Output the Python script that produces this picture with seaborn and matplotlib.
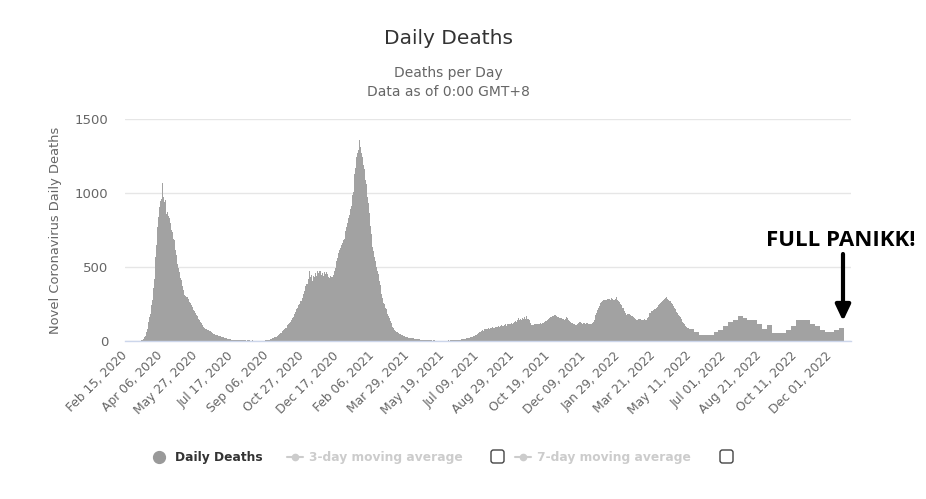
import numpy as np
import pandas as pd
import matplotlib
matplotlib.use("Agg")
import matplotlib.pyplot as plt
import seaborn as sns
from matplotlib.lines import Line2D
from matplotlib.patches import FancyBboxPatch, FancyArrowPatch

# ===============================
# Daily deaths (one value per day, month by month)
# ===============================
feb_2020 = [0, 0, 0, 0, 0, 0, 0, 0, 0, 0, 0, 0, 0, 0, 0]
mar_2020 = [0, 0, 0, 1, 0, 1, 2, 2, 4, 6, 9, 14, 19, 25, 33, 45, 62, 80, 102, 130,
            160, 185, 215, 245, 275, 300, 360, 420, 500, 570, 650]
apr_2020 = [710, 770, 840, 905, 920, 945, 960, 990, 1065, 975, 960, 940, 950, 900, 860,
            870, 845, 830, 830, 800, 770, 750, 735, 715, 690, 680, 650, 615, 580, 550]
may_2020 = [520, 490, 465, 440, 425, 410, 397, 370, 345, 318, 310, 305, 300, 298, 295,
            285, 275, 262, 255, 250, 240, 232, 222, 212, 205, 195, 186, 178, 168, 160, 152]
jun_2020 = [145, 138, 130, 125, 115, 105, 97, 90, 86, 83, 80, 77, 74, 71, 69,
            68, 65, 62, 58, 55, 52, 48, 45, 44, 42, 40, 38, 37, 35, 34]
jul_2020 = [33, 31, 30, 28, 27, 25, 24, 22, 20, 18, 17, 16, 15, 14, 12,
            11, 10, 9, 8, 7, 7, 8, 6, 7, 6, 5, 6, 7, 5, 6, 5]
aug_2020 = [5, 6, 4, 5, 6, 4, 5, 3, 4, 5, 4, 3, 4, 3, 2,
            3, 4, 3, 2, 3, 2, 3, 2, 2, 3, 2, 3, 2, 3, 2, 3]
sep_2020 = [2, 3, 3, 4, 4, 5, 6, 7, 8, 9, 10, 12, 14, 16, 18,
            20, 22, 24, 26, 28, 30, 33, 36, 40, 45, 48, 52, 57, 62, 68]
oct_2020 = [72, 78, 84, 88, 90, 98, 105, 112, 118, 125, 130, 136, 145, 155, 165,
            175, 185, 195, 205, 215, 222, 232, 240, 250, 262, 268, 272, 290, 305, 320, 340]
nov_2020 = [355, 370, 385, 400, 385, 420, 440, 476, 430, 445, 420, 408, 440, 450, 430,
            460, 465, 440, 470, 455, 462, 476, 450, 470, 445, 460, 454, 440, 468, 450]
dec_2020 = [455, 465, 440, 452, 430, 445, 425, 440, 430, 450, 435, 448, 455, 470, 490,
            515, 540, 560, 575, 595, 612, 630, 610, 650, 660, 670, 680, 690, 715, 740, 770]
jan_2021 = [790, 800, 830, 850, 870, 890, 915, 950, 985, 1010, 1080, 1130, 1170, 1210, 1240,
            1270, 1300, 1290, 1361, 1310, 1250, 1270, 1240, 1225, 1190, 1160, 1120, 1090, 1060, 1010, 975]
feb_2021 = [930, 862, 830, 780, 726, 680, 635, 610, 590, 565, 540, 522, 500, 475, 450,
            430, 408, 380, 350, 320, 290, 272, 260, 248, 238, 225, 215, 200]
mar_2021 = [185, 170, 158, 147, 135, 122, 108, 95, 88, 80, 75, 70, 68, 62, 58,
            55, 52, 50, 48, 45, 42, 40, 37, 35, 33, 30, 28, 27, 25, 24, 23]
apr_2021 = [22, 21, 20, 19, 18, 18, 17, 16, 15, 14, 13, 13, 12, 12, 11,
            11, 10, 10, 9, 9, 8, 8, 7, 7, 6, 6, 6, 5, 5, 5]
may_2021 = [5, 4, 5, 4, 3, 4, 3, 4, 3, 3, 2, 3, 2, 3, 2,
            2, 3, 2, 2, 3, 2, 2, 3, 3, 2, 3, 3, 4, 3, 4, 4]
jun_2021 = [4, 5, 4, 5, 6, 5, 6, 7, 6, 7, 8, 9, 8, 10, 11,
            12, 11, 13, 14, 15, 16, 15, 17, 18, 19, 20, 22, 23, 25, 27]
jul_2021 = [28, 30, 32, 35, 38, 40, 42, 45, 48, 52, 56, 58, 62, 65, 70,
            72, 68, 75, 78, 80, 85, 82, 78, 86, 88, 84, 82, 86, 90, 88, 92]
aug_2021 = [88, 90, 84, 92, 95, 90, 96, 100, 94, 97, 102, 98, 105, 100, 104,
            110, 108, 112, 106, 104, 115, 110, 118, 112, 119, 115, 122, 118, 125, 120, 128]
sep_2021 = [130, 135, 128, 140, 145, 153, 148, 140, 150, 142, 148, 155, 150, 153, 160,
            152, 158, 169, 150, 145, 148, 140, 142, 125, 110, 105, 97, 108, 112, 115]
oct_2021 = [112, 118, 110, 116, 112, 118, 114, 120, 115, 120, 125, 122, 128, 130, 135,
            140, 138, 145, 153, 150, 155, 160, 158, 164, 168, 172, 170, 176, 182, 175, 170]
nov_2021 = [168, 165, 164, 160, 158, 155, 153, 150, 148, 146, 145, 142, 150, 158, 164,
            155, 148, 140, 135, 130, 128, 125, 122, 119, 116, 114, 112, 110, 108, 112]
dec_2021 = [115, 120, 128, 137, 130, 125, 122, 118, 119, 122, 120, 118, 126, 124, 120,
            118, 115, 112, 115, 118, 116, 120, 119, 130, 145, 160, 176, 188, 200, 210, 221]
jan_2022 = [235, 248, 258, 266, 270, 272, 275, 278, 277, 280, 282, 278, 285, 281, 284,
            286, 280, 290, 288, 285, 282, 280, 276, 277, 285, 295, 280, 275, 270, 265, 259]
feb_2022 = [250, 240, 232, 226, 221, 212, 200, 190, 182, 176, 180, 184, 178, 182, 176,
            172, 168, 170, 164, 160, 155, 150, 148, 142, 145, 150, 148, 152]
mar_2022 = [153, 148, 145, 140, 144, 142, 138, 146, 140, 145, 142, 155, 165, 175, 187,
            192, 196, 200, 205, 209, 212, 215, 218, 220, 221, 228, 235, 242, 248, 254, 260]
apr_2022 = [265, 270, 272, 277, 280, 285, 290, 295, 288, 285, 280, 276, 272, 268, 262,
            255, 250, 243, 235, 226, 218, 208, 198, 192, 185, 178, 172, 168, 160, 150]
# from mid-May 2022 the figures come in weekly blocks
may_2022 = [140, 130, 120, 112, 105, 100, 95, 90, 88, 86, 87, 80, 80, 80, 80,
            80, 80, 80, 61, 61, 61, 61, 61, 61, 61, 43, 43, 43, 43, 43, 43]
jun_2022 = [43, 43, 43, 43, 43, 43, 43, 43, 38, 38, 38, 38, 38, 38, 38,
            61, 61, 61, 61, 61, 61, 61, 72, 72, 72, 72, 72, 72, 72, 99]
jul_2022 = [99, 99, 99, 99, 99, 99, 130, 130, 130, 130, 130, 130, 130, 140, 140,
            140, 140, 140, 140, 140, 167, 167, 167, 167, 167, 167, 167, 155, 155, 155, 155]
aug_2022 = [155, 155, 155, 140, 140, 140, 140, 140, 140, 140, 140, 140, 140, 140, 140,
            140, 140, 117, 117, 117, 117, 117, 117, 117, 83, 83, 83, 83, 83, 83, 83]
sep_2022 = [106, 106, 106, 106, 106, 106, 106, 54, 54, 54, 54, 54, 54, 54, 54,
            54, 54, 54, 54, 54, 54, 54, 54, 54, 54, 54, 54, 54, 72, 72]
oct_2022 = [72, 72, 72, 72, 72, 101, 101, 101, 101, 101, 101, 101, 140, 140, 140,
            140, 140, 140, 140, 140, 140, 140, 140, 140, 140, 140, 140, 140, 140, 140, 140]
nov_2022 = [140, 140, 117, 117, 117, 117, 117, 117, 117, 99, 99, 99, 99, 99, 99,
            99, 77, 77, 77, 77, 77, 77, 77, 61, 61, 61, 61, 61, 61, 61]
dec_2022 = [61, 61, 61, 61, 61, 61, 61, 72, 72, 72, 72, 72, 72, 72, 90,
            90, 90, 90, 90, 90, 90]

deaths = (feb_2020 + mar_2020 + apr_2020 + may_2020 + jun_2020 + jul_2020 + aug_2020
          + sep_2020 + oct_2020 + nov_2020 + dec_2020
          + jan_2021 + feb_2021 + mar_2021 + apr_2021 + may_2021 + jun_2021
          + jul_2021 + aug_2021 + sep_2021 + oct_2021 + nov_2021 + dec_2021
          + jan_2022 + feb_2022 + mar_2022 + apr_2022 + may_2022 + jun_2022
          + jul_2022 + aug_2022 + sep_2022 + oct_2022 + nov_2022 + dec_2022)

# category axis runs to the end of 2022, labels every 51 days
axis_days = pd.date_range("2020-02-15", "2022-12-31", freq="D")
tick_step = 51
tick_labels = [d.strftime("%b %d, %Y") for d in axis_days[::tick_step]]
y_ticks = [0, 500, 1000, 1500]

df = pd.DataFrame({"day": np.arange(len(deaths)), "deaths": deaths})

BAR_COLOR = "#a2a2a2"
GRID_COLOR = "#e6e6e6"
LABEL_COLOR = "#666666"
W, H = 926, 499
CX = 448 / W  # centre of the title block

# ===============================
# Figure
# ===============================
sns.set_theme(style="white")
plt.rcParams["font.family"] = ["DejaVu Sans"]

fig = plt.figure(figsize=(W / 100, H / 100), dpi=100)
ax = fig.add_axes([125 / W, 1 - 341 / H, 726 / W, 222 / H])

sns.barplot(data=df, x="day", y="deaths", color=BAR_COLOR, saturation=1,
            width=1.0, errorbar=None, linewidth=0, ax=ax)

ax.set_xlim(-0.5, len(axis_days) - 0.5)
ax.set_ylim(0, 1500)
ax.set_yticks(y_ticks)
ax.set_yticklabels([str(v) for v in y_ticks])
ax.set_xticks(np.arange(0, len(axis_days), tick_step))
ax.set_xticklabels(tick_labels, rotation=45, ha="right", va="center",
                   rotation_mode="anchor")
ax.tick_params(axis="x", length=0, pad=9, labelsize=8.8, labelcolor=LABEL_COLOR)
ax.tick_params(axis="y", length=0, pad=12, labelsize=9.5, labelcolor=LABEL_COLOR)

ax.yaxis.grid(True, color=GRID_COLOR, linewidth=1)
ax.xaxis.grid(False)
ax.set_axisbelow(True)
for side in ["top", "left", "right"]:
    ax.spines[side].set_visible(False)
ax.spines["bottom"].set_color("#ccd6eb")
ax.spines["bottom"].set_linewidth(1)

ax.set_xlabel("")
ax.set_ylabel("Novel Coronavirus Daily Deaths", color=LABEL_COLOR, fontsize=9.4)
ax.yaxis.set_label_coords((62 - 125) / 726, 0.5)

# ===============================
# Titles
# ===============================
fig.text(CX, 1 - 38 / H, "Daily Deaths", ha="center", va="center",
         fontsize=14.5, color="#333333")
fig.text(CX, 1 - 73 / H, "Deaths per Day", ha="center", va="center",
         fontsize=10, color=LABEL_COLOR)
fig.text(CX, 1 - 92 / H, "Data as of 0:00 GMT+8", ha="center", va="center",
         fontsize=10, color=LABEL_COLOR)

# ===============================
# Legend (drawn by hand, with the checkboxes)
# ===============================
ly = 1 - 457 / H
fig.add_artist(Line2D([159 / W], [ly], marker="o", markersize=8.5, color="#999999",
                      transform=fig.transFigure))
fig.text(175 / W, ly, "Daily Deaths", ha="left", va="center", fontsize=8.8,
         fontweight="bold", color="#333333")

for x0, label in [(287, "3-day moving average"), (515, "7-day moving average")]:
    fig.add_artist(Line2D([x0 / W, (x0 + 16) / W], [ly, ly], color="#cccccc", lw=1.5,
                          transform=fig.transFigure))
    fig.add_artist(Line2D([(x0 + 8) / W], [ly], marker="o", markersize=4.5,
                          color="#cccccc", transform=fig.transFigure))
    fig.text((x0 + 22) / W, ly, label, ha="left", va="center", fontsize=8.8,
             fontweight="bold", color="#cccccc")

for bx in [491, 720]:
    fig.add_artist(FancyBboxPatch((bx / 100, (H - 463) / 100), 0.13, 0.13,
                                  boxstyle="round,pad=0,rounding_size=0.025",
                                  transform=fig.dpi_scale_trans, facecolor="white",
                                  edgecolor="#444444", lw=1))

# ===============================
# Annotation
# ===============================
fig.text(841 / W, 1 - 241 / H, "FULL PANIKK!", ha="center", va="center",
         fontsize=16, fontweight="bold", family=["Open Sans", "DejaVu Sans"],
         color="black")
fig.add_artist(FancyArrowPatch((843 / W, 1 - 254 / H), (843 / W, 1 - 321 / H),
                               transform=fig.transFigure,
                               arrowstyle="-|>,head_length=0.95,head_width=0.45",
                               mutation_scale=10, lw=3, color="black",
                               shrinkA=0, shrinkB=0))

fig.savefig("out.png", dpi=100)
plt.close(fig)
